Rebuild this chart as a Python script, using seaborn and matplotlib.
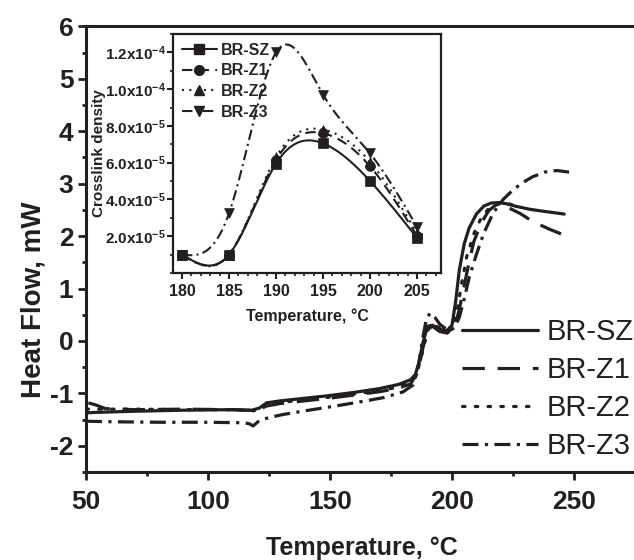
import numpy as np
import pandas as pd
import matplotlib
matplotlib.use("Agg")
import matplotlib.pyplot as plt
from matplotlib.lines import Line2D
from matplotlib.ticker import MultipleLocator, FuncFormatter
import seaborn as sns

# --- main DSC curves (Temperature, Heat Flow) ---
temp_sz = [50, 55, 70, 90, 110, 118, 121, 124, 130, 140, 150, 160, 170, 178, 183, 185, 186.5, 188, 190, 192,
           195, 198, 200, 201.5, 203, 205, 207, 210, 213, 216, 219, 222, 226, 232, 238, 246]
hf_sz = [-1.37, -1.36, -1.34, -1.32, -1.31, -1.32, -1.28, -1.18, -1.14, -1.09, -1.04, -0.98, -0.91, -0.83, -0.74,
         -0.64, -0.40, -0.05, 0.28, 0.30, 0.22, 0.20, 0.30, 0.75, 1.35, 1.85, 2.15, 2.42, 2.57, 2.63, 2.64, 2.62,
         2.57, 2.51, 2.47, 2.42]

temp_z1 = [51, 54, 58, 70, 90, 110, 120, 124, 130, 140, 150, 160, 170, 178, 183, 186, 188, 190, 192, 195, 198,
           201, 203, 205, 207, 209, 212, 215, 218, 221, 224, 228, 233, 240, 247]
hf_z1 = [-1.18, -1.22, -1.29, -1.31, -1.30, -1.31, -1.33, -1.24, -1.19, -1.14, -1.09, -1.03, -0.97, -0.90, -0.82,
         -0.60, -0.15, 0.22, 0.28, 0.18, 0.15, 0.25, 0.60, 1.05, 1.50, 1.90, 2.25, 2.48, 2.60, 2.60, 2.52, 2.43,
         2.28, 2.13, 2.00]

temp_z2 = [50, 70, 90, 110, 119, 123, 130, 140, 150, 160, 170, 178, 184, 186, 188, 190, 192, 195, 198, 200, 202,
           204, 206, 209, 212, 215, 219, 223, 226]
hf_z2 = [-1.30, -1.30, -1.31, -1.31, -1.33, -1.23, -1.17, -1.12, -1.07, -1.01, -0.95, -0.88, -0.74, -0.55, -0.20,
         0.20, 0.32, 0.25, 0.18, 0.22, 0.55, 1.10, 1.60, 2.05, 2.35, 2.52, 2.61, 2.62, 2.58]

temp_z3 = [50, 60, 80, 100, 115, 117, 118.5, 121, 125, 131, 140, 151, 160, 172, 180, 184, 186, 188, 189.5, 191,
           193, 195, 197, 199, 201, 203, 205, 207, 210, 213, 217, 221, 225, 229, 233, 238, 243, 248]
hf_z3 = [-1.53, -1.54, -1.55, -1.55, -1.56, -1.58, -1.62, -1.52, -1.46, -1.40, -1.33, -1.25, -1.18, -1.08, -0.97,
         -0.84, -0.55, 0.05, 0.42, 0.53, 0.45, 0.32, 0.25, 0.20, 0.25, 0.45, 0.80, 1.20, 1.65, 2.05, 2.45, 2.70,
         2.88, 3.02, 3.13, 3.22, 3.25, 3.22]

# --- inset: crosslink density vs cure temperature ---
temp_inset = [180, 185, 190, 195, 200, 205]
xl_sz = [1.0e-5, 1.0e-5, 5.95e-5, 7.05e-5, 5.0e-5, 1.9e-5]
xl_z1 = [1.0e-5, 1.0e-5, 6.15e-5, 7.6e-5, 5.8e-5, 2.0e-5]
xl_z2 = [1.0e-5, 1.0e-5, 6.3e-5, 7.8e-5, 6.05e-5, 2.15e-5]
xl_z3 = [1.0e-5, 3.25e-5, 1.2e-4, 9.7e-5, 6.5e-5, 2.5e-5]

labels = ["BR-SZ", "BR-Z1", "BR-Z2", "BR-Z3"]
styles = ["-", (0, (7, 4)), (0, (0.8, 3.2)), (0, (5, 2, 1, 2))]
inset_styles = ["-", (0, (5, 3)), (0, (1, 2.5)), (0, (5, 2, 1, 2))]
markers = ["s", "o", "^", "v"]
ink = "#231f20"


def spline(xs, ys, n=300):
    # natural cubic spline, like Origin's "spline" line connection
    xs = np.asarray(xs, float)
    ys = np.asarray(ys, float)
    k = len(xs)
    h = np.diff(xs)
    A = np.zeros((k, k))
    b = np.zeros(k)
    A[0, 0] = A[-1, -1] = 1
    for i in range(1, k - 1):
        A[i, i - 1] = h[i - 1]
        A[i, i] = 2 * (h[i - 1] + h[i])
        A[i, i + 1] = h[i]
        b[i] = 6 * ((ys[i + 1] - ys[i]) / h[i] - (ys[i] - ys[i - 1]) / h[i - 1])
    M = np.linalg.solve(A, b)
    xx = np.linspace(xs[0], xs[-1], n)
    idx = np.clip(np.searchsorted(xs, xx) - 1, 0, k - 2)
    x0, x1 = xs[idx], xs[idx + 1]
    hh = x1 - x0
    t0, t1 = x1 - xx, xx - x0
    yy = (M[idx] * t0 ** 3 / (6 * hh) + M[idx + 1] * t1 ** 3 / (6 * hh)
          + (ys[idx] / hh - M[idx] * hh / 6) * t0 + (ys[idx + 1] / hh - M[idx + 1] * hh / 6) * t1)
    return xx, yy


sns.set_style("ticks")
plt.rcParams["font.family"] = ["Liberation Sans", "DejaVu Sans"]
plt.rcParams["axes.unicode_minus"] = False
plt.rcParams["mathtext.fontset"] = "custom"
plt.rcParams["mathtext.bf"] = "Liberation Sans:bold"
plt.rcParams["mathtext.rm"] = "Liberation Sans"

fig = plt.figure(figsize=(6.34, 5.6), dpi=100)
ax = fig.add_axes([0.1356, 0.157, 0.8644, 0.796])

main_sets = [(temp_sz, hf_sz), (temp_z1, hf_z1), (temp_z2, hf_z2), (temp_z3, hf_z3)]
for (t, hf), lab, ls in zip(main_sets, labels, styles):
    sns.lineplot(x=t, y=hf, ax=ax, color=ink, linewidth=2.3, linestyle=ls, label=lab,
                 sort=False, estimator=None, dash_capstyle="round" if ls == styles[2] else "butt")

ax.set_xlim(50, 274.6)
ax.set_ylim(-2.5, 6)
ax.set_xticks([50, 100, 150, 200, 250])
ax.xaxis.set_minor_locator(MultipleLocator(25))
ax.set_yticks(range(-2, 7))
ax.yaxis.set_minor_locator(MultipleLocator(0.5))
for s in ["left", "bottom", "top"]:
    ax.spines[s].set_linewidth(2.2)
    ax.spines[s].set_color(ink)
ax.spines["right"].set_visible(False)
ax.tick_params(axis="both", which="major", direction="out", length=6, width=2, color=ink)
ax.tick_params(axis="both", which="minor", direction="out", length=3, width=2, color=ink)
ax.tick_params(axis="x", which="major", pad=7)
ax.tick_params(axis="y", which="major", pad=3)
for lbl in ax.get_xticklabels() + ax.get_yticklabels():
    lbl.set_fontweight("bold")
    lbl.set_fontsize(19)
    lbl.set_color(ink)

ax.set_xlabel("Temperature, °C", fontsize=18, fontweight="bold", color=ink)
ax.set_ylabel("Heat Flow, mW", fontsize=20, fontweight="bold", color=ink)
ax.xaxis.set_label_coords(0.504, -0.143)
ax.yaxis.set_label_coords(-0.072, 0.386)

leg = ax.legend(loc="center right", bbox_to_anchor=(1.0, 0.186), frameon=False, fontsize=21,
                handlelength=2.6, handletextpad=0.3, labelspacing=0.34, borderaxespad=0, borderpad=0)
for txt in leg.get_texts():
    txt.set_color(ink)

# --- inset ---
axi = fig.add_axes([0.273, 0.5125, 0.4227, 0.4268])
inset_sets = [xl_sz, xl_z1, xl_z2, xl_z3]
handles = []
for ys, lab, ls, mk in zip(inset_sets, labels, inset_styles, markers):
    xx, yy = spline(temp_inset, ys)
    sns.lineplot(x=xx, y=yy, ax=axi, color=ink, linewidth=1.5, linestyle=ls, sort=False, estimator=None)
    sns.scatterplot(x=temp_inset, y=ys, ax=axi, color=ink, marker=mk, s=50, edgecolor=ink, linewidth=0.5)
    handles.append(Line2D([], [], color=ink, linewidth=1.5, linestyle=ls, marker=mk, markersize=7,
                          label=lab))

axi.set_xlim(179.05, 207.55)
axi.set_ylim(0, 1.3e-4)
axi.set_xticks(temp_inset)
axi.xaxis.set_minor_locator(MultipleLocator(1))
axi.set_yticks([2e-5, 4e-5, 6e-5, 8e-5, 1.0e-4, 1.2e-4])
axi.yaxis.set_minor_locator(MultipleLocator(1e-5))


def sci_fmt(v, pos):
    e = int(np.floor(np.log10(v) + 1e-9))
    m = v / 10 ** e
    return r"$\mathbf{%.1fx10^{%d}}$" % (m, e)


axi.yaxis.set_major_formatter(FuncFormatter(sci_fmt))
for s in axi.spines.values():
    s.set_linewidth(1.6)
    s.set_color(ink)
axi.tick_params(axis="both", which="major", direction="out", length=4, width=1.5, color=ink, pad=1.5)
axi.tick_params(axis="both", which="minor", direction="out", length=2, width=1.2, color=ink)
axi.tick_params(axis="y", labelsize=11)
axi.tick_params(axis="x", pad=4)
for lbl in axi.get_xticklabels():
    lbl.set_fontweight("bold")
    lbl.set_fontsize(11.5)
    lbl.set_color(ink)
for lbl in axi.get_yticklabels():
    lbl.set_color(ink)

axi.set_xlabel("Temperature, °C", fontsize=11.5, fontweight="bold", color=ink, labelpad=7)
axi.set_ylabel("Crosslink density", fontsize=11, fontweight="bold", color=ink)
axi.yaxis.set_label_coords(-0.25, 0.5)
axi.legend(handles=handles, loc="upper left", frameon=False, prop={"weight": "bold", "size": 11.5},
           handlelength=2.2, handletextpad=0.25, labelspacing=0.35, borderaxespad=0.45, borderpad=0.1)

fig.savefig("out.png", dpi=100)
